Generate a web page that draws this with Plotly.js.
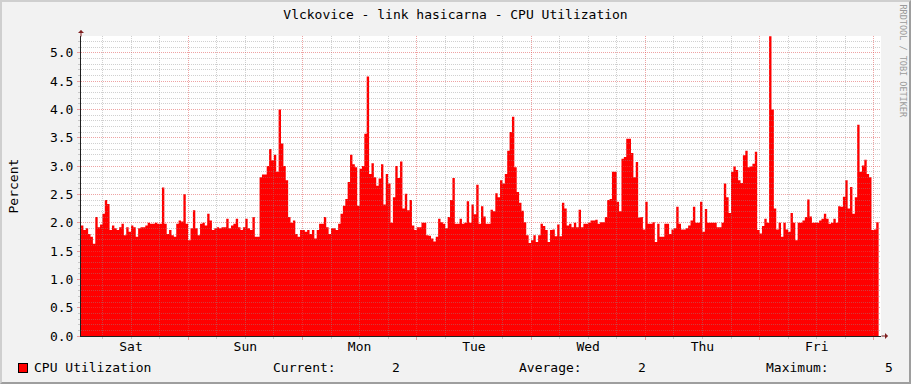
<!DOCTYPE html>
<html>
<head>
<meta charset="utf-8">
<script src="https://cdn.plot.ly/plotly-3.0.1.min.js"></script>
<style>
html,body{margin:0;padding:0;background:#F2F2F2;}
#wrap{position:relative;width:911px;height:384px;overflow:hidden;}
#chart{position:absolute;left:0;top:0;width:911px;height:384px;}
#frame{position:absolute;left:0;top:0;width:911px;height:384px;box-sizing:border-box;border-style:solid;border-width:2px;border-color:#CFCFCF #9E9E9E #9E9E9E #CFCFCF;pointer-events:none;}
#chart .gridlayer path, #chart .minor-gridlayer path { shape-rendering: crispEdges; }
</style>
</head>
<body>
<div id="wrap"><div id="chart"></div><div id="frame"></div></div>
<script>
// ---------- data ----------
const chartTitle = 'Vlckovice - link hasicarna - CPU Utilization';
const yTitle = 'Percent';
const seriesName = 'CPU Utilization';
const startTime = '2024-01-06T01:30:00Z';   // Saturday 01:30
const stepMinutes = 30;
const spanHours = 168;
const dayLabelFormat = '%a';                 // Sat, Sun, Mon ...
const legendLabels = ['Current:', 'Average:', 'Maximum:'];
const watermark = 'RRDTOOL / TOBI OETIKER';

const cpu = [
  1.95, 1.87, 1.9, 1.8, 1.75, 1.63, 2.1, 1.92, 1.97, 2.16,
  2.4, 2.33, 1.87, 1.95, 1.9, 1.87, 1.92, 1.98, 1.78, 1.92,
  1.84, 1.95, 1.92, 1.75, 1.9, 1.92, 1.92, 1.95, 2.0, 1.98,
  1.98, 2.0, 1.98, 1.98, 2.62, 1.98, 1.8, 1.87, 1.78, 1.75,
  1.98, 2.04, 2.02, 2.5, 1.98, 1.69, 1.9, 2.22, 1.9, 1.78,
  1.98, 2.0, 1.95, 2.16, 2.04, 1.87, 1.9, 1.92, 1.9, 1.92,
  1.92, 2.07, 1.9, 1.95, 1.98, 2.07, 1.92, 1.87, 1.92, 2.07,
  1.9, 1.87, 2.1, 1.75, 1.75, 2.8, 2.85, 2.85, 3.0, 3.3,
  3.1, 3.2, 2.9, 4.0, 3.4, 3.0, 2.75, 2.1, 2.0, 2.04,
  1.8, 1.75, 1.87, 1.87, 1.84, 1.87, 1.8, 1.87, 1.72, 1.87,
  1.98, 1.98, 2.1, 1.92, 1.8, 1.9, 1.9, 1.87, 1.98, 2.16,
  2.3, 2.42, 2.72, 3.2, 3.03, 2.98, 2.3, 2.95, 3.0, 3.57,
  4.58, 2.86, 3.05, 2.8, 2.65, 2.78, 3.03, 2.32, 2.86, 2.69,
  2.0, 2.45, 3.0, 2.79, 3.08, 2.25, 2.51, 2.22, 2.4, 1.95,
  1.87, 1.92, 1.92, 2.0, 2.0, 1.78, 1.77, 1.72, 1.67, 1.75,
  2.07, 2.01, 1.98, 1.9, 2.1, 2.4, 2.79, 1.98, 1.98, 2.07,
  1.98, 2.0, 2.38, 2.0, 2.32, 2.15, 2.67, 1.98, 2.29, 2.11,
  1.98, 1.98, 2.23, 2.2, 2.52, 2.45, 2.75, 2.69, 2.86, 3.27,
  3.6, 3.87, 2.98, 2.54, 2.35, 2.21, 2.01, 1.78, 1.64, 1.69,
  1.78, 1.66, 1.78, 1.98, 1.94, 1.87, 1.66, 1.87, 1.88, 1.76,
  1.97, 1.76, 2.35, 2.25, 1.95, 1.98, 1.92, 2.0, 1.92, 2.23,
  1.92, 1.98, 1.98, 2.0, 2.04, 2.04, 2.05, 1.98, 2.01, 2.01,
  2.1, 2.4, 2.42, 2.9, 2.9, 2.37, 2.2, 3.13, 3.16, 3.48,
  3.48, 3.23, 2.8, 3.07, 2.09, 2.1, 1.88, 2.37, 1.98, 1.98,
  2.01, 1.66, 1.98, 1.75, 1.75, 1.98, 1.98, 1.8, 1.88, 1.9,
  2.28, 1.98, 1.88, 1.88, 1.9, 1.95, 2.04, 2.28, 2.0, 2.0,
  2.37, 1.84, 2.24, 2.0, 2.0, 2.0, 2.0, 1.92, 1.92, 2.0,
  2.69, 2.45, 2.17, 2.9, 2.99, 2.93, 2.75, 2.7, 3.19, 3.27,
  2.98, 2.99, 3.04, 3.25, 1.87, 1.81, 1.94, 2.07, 2.0, 5.29,
  4.0, 2.25, 1.88, 2.0, 1.75, 2.0, 1.88, 1.84, 2.17, 2.0,
  1.69, 2.0, 2.0, 2.04, 2.1, 2.41, 2.11, 2.0, 2.0, 2.0,
  2.04, 2.07, 2.16, 2.07, 1.98, 2.0, 2.07, 2.0, 2.29, 2.28,
  2.46, 2.75, 2.25, 2.63, 2.16, 2.45, 3.73, 2.9, 3.01, 3.11,
  2.86, 2.8, 1.87, 1.88, 2.01
];

// ---------- derived ----------
const HOUR = 3600000, DAY = 24 * HOUR;
const t0 = Date.parse(startTime);
const tEnd = t0 + spanHours * HOUR;
const xs = cpu.map((v, i) => t0 + i * stepMinutes * 60000);
const ys = cpu.slice();
xs.push(t0 + cpu.length * stepMinutes * 60000); ys.push(cpu[cpu.length - 1]);
const firstMidnight = new Date(t0); firstMidnight.setUTCHours(0, 0, 0, 0);
const tick0 = firstMidnight.getTime();

const statCur = cpu[cpu.length - 1];
const statAvg = cpu.reduce((a, b) => a + b, 0) / cpu.length;
const statMax = Math.max(...cpu);
const yTop = statMax * 1.001;

// ---------- geometry ----------
const W = 911, H = 384, ML = 81, MR = 30, MT = 36, MB = 48;
const PW = W - ML - MR, PH = H - MT - MB;
const px = v => (v - ML) / PW;
const py = v => (H - MB - v) / PH;

const FONT = 'DejaVu Sans Mono';
const GRID = 'rgba(143,143,143,0.42)';
const MGRID = 'rgba(222,79,79,0.52)';
const ARROW = '#7F1F1F';
const AXIS = '#1F1F1F';

const traces = [
  { x: xs, y: ys, type: 'scatter', mode: 'lines', name: seriesName,
    line: { shape: 'hv', width: 0, color: '#FF0000' },
    fill: 'tozeroy', fillcolor: '#FF0000', hoverinfo: 'skip', xaxis: 'x', yaxis: 'y' },
  { x: [], y: [], type: 'scatter', mode: 'lines', xaxis: 'x2', yaxis: 'y2', hoverinfo: 'skip', showlegend: false }
];

const hidden = { showgrid: false, showline: false, zeroline: false, showticklabels: false, ticks: '', fixedrange: true };

const layout = {
  width: W, height: H,
  margin: { l: ML, r: MR, t: MT, b: MB, pad: 0 },
  paper_bgcolor: '#F2F2F2', plot_bgcolor: 'rgba(0,0,0,0)',
  showlegend: false,
  font: { family: FONT, size: 13, color: '#000000' },
  title: { text: chartTitle, font: { family: FONT, size: 13, color: '#000000' },
           xref: 'container', x: 0.5, xanchor: 'center', yref: 'container', y: 1 - 14 / H, yanchor: 'middle' },
  shapes: [
    // white canvas under both subplots
    { type: 'rect', xref: 'paper', yref: 'paper', x0: 0, x1: 1, y0: 0, y1: 1,
      fillcolor: '#FFFFFF', line: { width: 0 }, layer: 'below' }
  ],
  xaxis: Object.assign({ type: 'date', range: [t0, tEnd], anchor: 'y' }, hidden),
  yaxis: Object.assign({ range: [0, yTop], anchor: 'x' }, hidden),
  xaxis2: {
    type: 'date', range: [t0, tEnd], anchor: 'y2', fixedrange: true,
    tick0: tick0, dtick: DAY, tickformat: dayLabelFormat, ticklabelmode: 'period',
    showgrid: true, gridcolor: MGRID, griddash: '1px,1px', gridwidth: 1,
    showline: true, linecolor: AXIS, linewidth: 1, zeroline: false,
    ticks: 'outside', ticklen: 3, tickcolor: MGRID, tickwidth: 1, ticklabelstandoff: -5,
    tickfont: { family: FONT, size: 13 },
    minor: { tick0: tick0, dtick: 6 * HOUR, ticks: 'outside', ticklen: 2, tickcolor: GRID,
             showgrid: true, gridcolor: GRID, griddash: '1px,1px', gridwidth: 1 }
  },
  yaxis2: {
    range: [0, yTop], anchor: 'x2', fixedrange: true,
    tick0: 0, dtick: 0.5, tickformat: '.1f',
    showgrid: true, gridcolor: MGRID, griddash: '1px,1px', gridwidth: 1,
    showline: true, linecolor: AXIS, linewidth: 1, zeroline: false,
    ticks: 'outside', ticklen: 3, tickcolor: MGRID, tickwidth: 1, ticklabelstandoff: 1,
    tickfont: { family: FONT, size: 13 },
    minor: { tick0: 0, dtick: 0.1, ticks: 'outside', ticklen: 2, tickcolor: GRID,
             showgrid: true, gridcolor: GRID, griddash: '1px,1px', gridwidth: 1 }
  },
  annotations: [
    // axis arrows
    { xref: 'paper', yref: 'paper', x: 0, y: py(30), ax: 0, ay: 8, text: '', showarrow: true,
      arrowhead: 1, arrowsize: 1, arrowwidth: 1, arrowcolor: ARROW },
    { xref: 'paper', yref: 'paper', x: px(888), y: 0, ax: -8, ay: 0, text: '', showarrow: true,
      arrowhead: 1, arrowsize: 1, arrowwidth: 1, arrowcolor: ARROW },
    // y title
    { xref: 'paper', yref: 'paper', x: px(12.5), y: py(186), text: yTitle, textangle: -90,
      showarrow: false, xanchor: 'center', yanchor: 'middle', font: { family: FONT, size: 13 } },
    // watermark
    { xref: 'paper', yref: 'paper', x: px(902.5), y: py(61), text: watermark, textangle: 90,
      showarrow: false, xanchor: 'center', yanchor: 'middle', font: { family: FONT, size: 8.5, color: '#9A9A9A' } },
    // legend swatch + labels
    { xref: 'paper', yref: 'paper', x: px(22.5), y: py(368), text: ' ', width: 8, height: 8,
      bgcolor: '#FF0000', bordercolor: '#000000', borderwidth: 1, borderpad: 0,
      showarrow: false, xanchor: 'center', yanchor: 'middle', font: { size: 4 } },
    { xref: 'paper', yref: 'paper', x: px(31.5), y: py(367.5), text: seriesName, showarrow: false,
      xanchor: 'left', yanchor: 'middle' },
    { xref: 'paper', yref: 'paper', x: px(270.5), y: py(367.5), text: legendLabels[0], showarrow: false, xanchor: 'left', yanchor: 'middle' },
    { xref: 'paper', yref: 'paper', x: px(402), y: py(367.5), text: statCur.toFixed(0), showarrow: false, xanchor: 'right', yanchor: 'middle' },
    { xref: 'paper', yref: 'paper', x: px(516.5), y: py(367.5), text: legendLabels[1], showarrow: false, xanchor: 'left', yanchor: 'middle' },
    { xref: 'paper', yref: 'paper', x: px(648), y: py(367.5), text: statAvg.toFixed(0), showarrow: false, xanchor: 'right', yanchor: 'middle' },
    { xref: 'paper', yref: 'paper', x: px(763.5), y: py(367.5), text: legendLabels[2], showarrow: false, xanchor: 'left', yanchor: 'middle' },
    { xref: 'paper', yref: 'paper', x: px(895), y: py(367.5), text: statMax.toFixed(0), showarrow: false, xanchor: 'right', yanchor: 'middle' }
  ]
};

Plotly.newPlot('chart', traces, layout, { staticPlot: true, displayModeBar: false });
</script>
</body>
</html>
